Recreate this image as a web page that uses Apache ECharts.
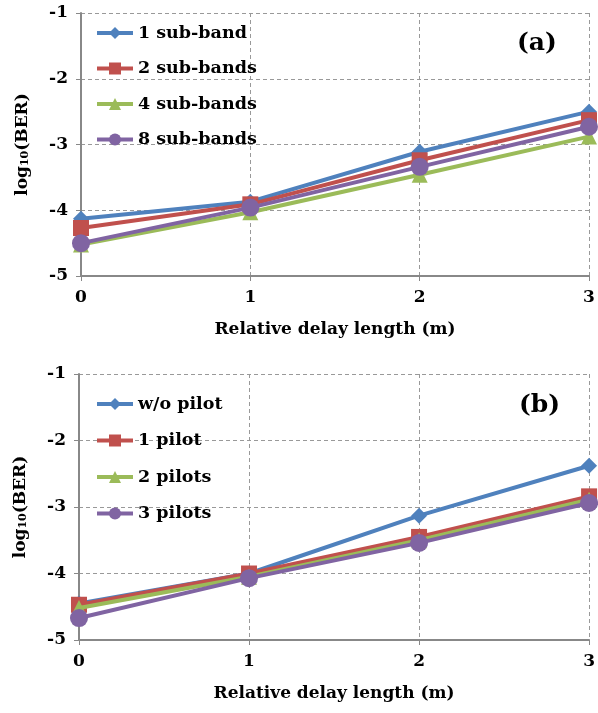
<!DOCTYPE html>
<html>
<head>
<meta charset="utf-8">
<script src="https://cdn.jsdelivr.net/npm/echarts@6/dist/echarts.min.js"></script>
<style>
  html, body { margin: 0; padding: 0; background: #fff; }
  #chart { width: 598px; height: 713px; }
</style>
</head>
<body>
<div id="chart"></div>
<script>
var delays = ['0', '1', '2', '3'];
var yTicks = [-1, -2, -3, -4, -5];

// (a) sub-band counts
var namesA = ['1 sub-band', '2 sub-bands', '4 sub-bands', '8 sub-bands'];
var subBand1 = [-4.13, -3.87, -3.11, -2.50];
var subBand2 = [-4.27, -3.91, -3.24, -2.63];
var subBand4 = [-4.52, -4.03, -3.46, -2.88];
var subBand8 = [-4.50, -3.96, -3.34, -2.73];

// (b) pilot counts
var namesB = ['w/o pilot', '1 pilot', '2 pilots', '3 pilots'];
var noPilot = [-4.45, -4.00, -3.13, -2.38];
var pilot1 = [-4.47, -4.00, -3.45, -2.84];
var pilot2 = [-4.52, -4.05, -3.50, -2.89];
var pilot3 = [-4.67, -4.07, -3.54, -2.94];

var colors = ['#4F81BD', '#C0504D', '#9BBB59', '#8064A2'];
var symbols = ['diamond', 'rect', 'triangle', 'circle'];
var symbolSizes = [16, 16, 16, 18];
var fontFam = '"DejaVu Serif", serif';

var chart = echarts.init(document.getElementById('chart'));

function makeSeries(names, datas, idx) {
    return names.map(function(n, i) {
        return {
            name: n,
            type: 'line',
            xAxisIndex: idx,
            yAxisIndex: idx,
            data: datas[i],
            color: colors[i],
            symbol: symbols[i],
            symbolSize: symbolSizes[i],
            showAllSymbol: true,
            lineStyle: { width: 4 },
            z: 2 + i
        };
    });
}

function xAxisCfg(idx) {
    return {
        type: 'category',
        gridIndex: idx,
        data: delays,
        boundaryGap: false,
        name: 'Relative delay length (m)',
        nameLocation: 'middle',
        nameGap: 45,
        nameTextStyle: { fontFamily: fontFam, fontWeight: 'bold', fontSize: 17, color: '#000' },
        axisLine: { lineStyle: { color: '#888', width: 2 } },
        axisTick: { show: true, length: 5, lineStyle: { color: '#888' } },
        axisLabel: { fontFamily: fontFam, fontWeight: 'bold', fontSize: 17, color: '#000', margin: 13 },
        splitLine: { show: true, lineStyle: { color: '#999', type: [4, 3] } }
    };
}

function yAxisCfg(idx) {
    return {
        type: 'value',
        gridIndex: idx,
        min: -5,
        max: -1,
        interval: 1,
        name: '{n|log}{s|10}{n|(BER)}',
        nameLocation: 'middle',
        nameGap: 50,
        nameRotate: 90,
        nameTextStyle: {
            rich: {
                n: { fontFamily: fontFam, fontWeight: 'bold', fontSize: 17, color: '#000' },
                s: { fontFamily: fontFam, fontWeight: 'bold', fontSize: 11, color: '#000', verticalAlign: 'bottom', padding: [6, 0, 0, 0] }
            }
        },
        axisLine: { show: true, lineStyle: { color: '#888', width: 2 } },
        axisTick: { show: true, length: 5, lineStyle: { color: '#888' } },
        axisLabel: {
            fontFamily: fontFam, fontWeight: 'bold', fontSize: 17, color: '#000', margin: 13,
            formatter: function(v) { return yTicks.indexOf(v) >= 0 ? String(v) : ''; }
        },
        splitLine: { show: true, lineStyle: { color: '#999', type: [4, 3] } }
    };
}

function legendCfg(names, top, gap) {
    return {
        data: names,
        orient: 'vertical',
        left: 90,
        top: top,
        itemWidth: 36,
        itemHeight: 15,
        itemGap: gap,
        lineStyle: { width: 4 },
        textStyle: { fontFamily: fontFam, fontWeight: 'bold', fontSize: 17.5, color: '#000' }
    };
}

chart.setOption({
    animation: false,
    backgroundColor: '#fff',
    title: [
        { text: '(a)', left: 512, top: 26, textStyle: { fontFamily: fontFam, fontWeight: 'bold', fontSize: 25, color: '#000' } },
        { text: '(b)', left: 514, top: 388, textStyle: { fontFamily: fontFam, fontWeight: 'bold', fontSize: 25, color: '#000' } }
    ],
    legend: [legendCfg(namesA, 19, 17.5), legendCfg(namesB, 390, 18.5)],
    grid: [
        { left: 81, right: 9, top: 13, height: 263 },
        { left: 79, right: 5, top: 374, height: 266 }
    ],
    xAxis: [xAxisCfg(0), xAxisCfg(1)],
    yAxis: [yAxisCfg(0), yAxisCfg(1)],
    series: makeSeries(namesA, [subBand1, subBand2, subBand4, subBand8], 0)
        .concat(makeSeries(namesB, [noPilot, pilot1, pilot2, pilot3], 1))
});
</script>
</body>
</html>
